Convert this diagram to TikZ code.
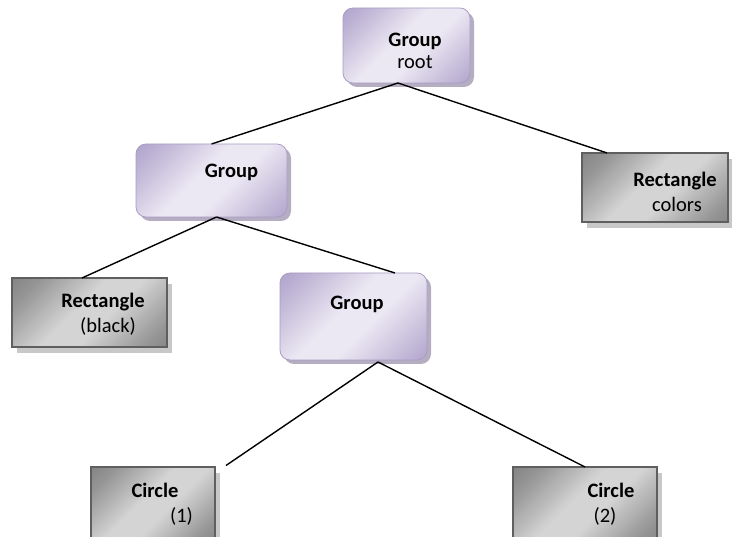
\documentclass[tikz,border=0pt]{standalone}
\usepackage{fontspec}
\setmainfont{Carlito}
\usetikzlibrary{shadows,calc}
\definecolor{grpdark}{RGB}{150,134,186}
\definecolor{grpmid}{RGB}{192,182,214}
\definecolor{grplight}{RGB}{236,232,243}
\definecolor{grpline}{RGB}{170,156,196}
\definecolor{grpshadow}{RGB}{150,140,168}
\definecolor{rectdark}{RGB}{105,105,105}
\definecolor{rectmid}{RGB}{150,150,150}
\definecolor{rectlight}{RGB}{212,212,212}
\definecolor{rectline}{RGB}{95,95,95}
\definecolor{rectshadow}{RGB}{200,200,200}
\pgfdeclareverticalshading{grpshade}{100bp}{color(0bp)=(grpdark); color(22bp)=(grpmid); color(43bp)=(grplight); color(55bp)=(grplight); color(76bp)=(grpmid); color(100bp)=(grpdark)}
\pgfdeclareverticalshading{rectshade}{100bp}{color(0bp)=(rectdark); color(22bp)=(rectmid); color(43bp)=(rectlight); color(55bp)=(rectlight); color(76bp)=(rectmid); color(100bp)=(rectdark)}
\tikzset{
  groupbox/.style={draw=grpline, line width=0.8pt, rounded corners=10pt,
    shading=grpshade, shading angle=45,
    inner sep=0pt, outer sep=0pt,
    drop shadow={shadow xshift=4pt, shadow yshift=-4pt, fill=grpshadow, opacity=0.7}},
  rectbox/.style={draw=rectline, line width=1.6pt,
    shading=rectshade, shading angle=45,
    inner sep=0pt, outer sep=0pt,
    drop shadow={shadow xshift=5pt, shadow yshift=-6pt, fill=rectshadow, opacity=1}},
  lbl/.style={anchor=base, inner sep=0pt, font=\fontsize{20.5}{24}\selectfont},
  blbl/.style={lbl, font=\fontsize{20.5}{24}\selectfont\bfseries},
  conn/.style={line width=1.4pt, black}
}
\begin{document}
\begin{tikzpicture}[x=1pt,y=1pt]
\useasboundingbox (0,0) rectangle (732,537);
% boxes
\node[groupbox, minimum width=127pt, minimum height=75pt] (root) at (406.5,491.5) {};
\node[groupbox, minimum width=151pt, minimum height=73pt] (g2) at (211.5,356.5) {};
\node[rectbox, minimum width=146pt, minimum height=69pt] (rc) at (655,349.5) {};
\node[rectbox, minimum width=155pt, minimum height=69pt] (rb) at (89.5,224.5) {};
\node[groupbox, minimum width=147pt, minimum height=87pt] (g3) at (353.5,220.5) {};
\node[rectbox, minimum width=124pt, minimum height=74pt] (c1) at (153,33) {};
\node[rectbox, minimum width=144pt, minimum height=74pt] (c2) at (585,33) {};
% labels
\node[blbl] (rootT) at (415,490) {Group};
\node[lbl] (rootS) at (415,468) {root};
\node[blbl] (g2T) at (231.5,359) {Group};
\node[blbl] (rcT) at (675,350) {Rectangle};
\node[lbl] (rcS) at (677,325) {colors};
\node[blbl] (rbT) at (103,229) {Rectangle};
\node[lbl] (rbS) at (108,204) {(black)};
\node[blbl] (g3T) at (357,227) {Group};
\node[blbl] (c1T) at (155,39) {Circle};
\node[lbl] (c1S) at (181.5,14) {(1)};
\node[blbl] (c2T) at (611,39) {Circle};
\node[lbl] (c2S) at (605,14) {(2)};
% connector end points
\coordinate (rootB) at ([xshift=-8.5pt]root.south);
\coordinate (rcTop) at ([xshift=25pt]rc.north west);
\coordinate (g2B) at ([xshift=5pt]g2.south);
\coordinate (rbTop) at ([xshift=-7.5pt]rb.north);
\coordinate (g3Top) at ([xshift=41.5pt]g3.north);
\coordinate (g3B) at ([xshift=24.5pt,yshift=-2pt]g3.south);
\coordinate (c1Free) at ([xshift=11pt,yshift=1.5pt]c1.north east);
% connectors
\draw[conn] (rootB) -- (g2.north);
\draw[conn] (rootB) -- (rcTop);
\draw[conn] (g2B) -- (rbTop);
\draw[conn] (g2B) -- (g3Top);
\draw[conn] (g3B) -- (c1Free);
\draw[conn] (g3B) -- (c2.north);
\end{tikzpicture}
\end{document}
